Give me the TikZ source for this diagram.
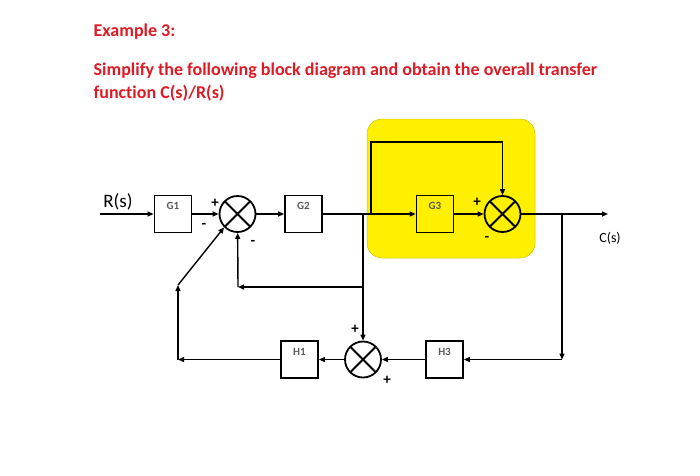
\documentclass[tikz,border=0pt]{standalone}
\usepackage{fontspec}
\setmainfont[Ligatures=NoCommon]{Carlito}
\usetikzlibrary{arrows.meta,positioning}
\definecolor{titlered}{RGB}{222,26,36}
\definecolor{hilite}{RGB}{255,240,0}
\definecolor{boxtext}{RGB}{90,90,90}

\begin{document}
\begin{tikzpicture}[
x=1pt,y=-1pt,
>={Triangle[length=6pt,width=5pt]},
line width=1.4pt,
block/.style={draw, line width=1.8pt, minimum width=37pt, minimum height=37pt, inner sep=0pt,
  text height=7pt, text depth=16pt, font=\fontsize{11}{11}\selectfont\bfseries, text=boxtext},
sumpt/.style={circle, draw, line width=1.8pt, minimum size=36pt, inner sep=0pt,
  path picture={\draw[line width=1.8pt] (path picture bounding box.north west) -- (path picture bounding box.south east)
    (path picture bounding box.north east) -- (path picture bounding box.south west);}},
sgn/.style={font=\fontsize{15}{15}\selectfont\bfseries, inner sep=0pt},
title/.style={anchor=base west, inner sep=0pt, text=titlered, font=\fontsize{18}{20}\selectfont\bfseries}
]
\useasboundingbox (0,0) rectangle (700,475);

% title
\node[title] (ex) at (93,36) {Example 3:};
\node[title] (q1) at (93,75) {Simplify the following block diagram and obtain the overall transfer};
\node[title] (q2) at (93,98) {function C(s)/R(s)};

% highlighted part
\draw[fill=hilite, draw=hilite!80!black, line width=0.5pt, rounded corners=15pt] (367,119) rectangle (535,258);

% blocks and summing points
\node[block] (G1) at (173,214) {G1};
\node[sumpt] (S1) at (237.5,214) {};
\node[block] (G2) at (303.5,214) {G2};
\node[block] (G3) at (435,214) {G3};
\node[sumpt] (S2) at (502.5,214) {};
\node[block] (H1) at (299.5,359.5) {H1};
\node[sumpt] (S3) at (363,359.5) {};
\node[block] (H3) at (444.5,359.5) {H3};

% points on the lines
\coordinate (in) at (100,214);
\coordinate (brA) at (363,214);
\coordinate (brB) at (371,214);
\coordinate (topL) at (371,142);
\coordinate (topR) at (502.5,142);
\coordinate (brC) at (562,214);
\coordinate (out) at (608,214);
\coordinate (fbA) at (363,287);
\coordinate (fbB) at (238,287);
\coordinate (botR) at (562,359.5);
\coordinate (botL) at (178,359.5);
\coordinate (upL) at (178,285);

% forward path
\draw[->] (in) -- (G1);
\draw[->] (G1) -- (S1);
\draw[->] (S1) -- (G2);
\draw[->] (G2.east) -- (brB) -- (G3);
\draw[->] (brB) -- (topL) -- (topR) -- (S2);
\draw[->] (G3) -- (S2);
\draw[->] (S2) -- (out);

% feedback paths
\draw[->] (brA) -- (fbA) -- (S3);
\draw[->] (fbA) -- (fbB);
\draw[->] (fbB) -- (S1);
\draw[->] (brC) -- (botR);
\draw[->] (botR) -- (H3);
\draw[->] (H3) -- (S3);
\draw[->] (S3) -- (H1);
\draw[->] (H1) -- (botL);
\draw[->] (botL) -- (upL);
\draw[->] (upL) -- (S1.225);

% signals and signs
\node[font=\fontsize{19}{19}\selectfont] (R) at (118,202) {R(s)};
\node[font=\fontsize{14}{14}\selectfont] (C) at (610,238) {C(s)};
\node[sgn] (p1) at (215,203) {+};
\node[sgn] (m1) at (204,226) {-};
\node[sgn] (m2) at (253,243) {-};
\node[sgn] (p2) at (477,202) {+};
\node[sgn] (m3) at (487,239) {-};
\node[sgn] (p3) at (355,329) {+};
\node[sgn] (p4) at (387,380) {+};
\end{tikzpicture}
\end{document}
